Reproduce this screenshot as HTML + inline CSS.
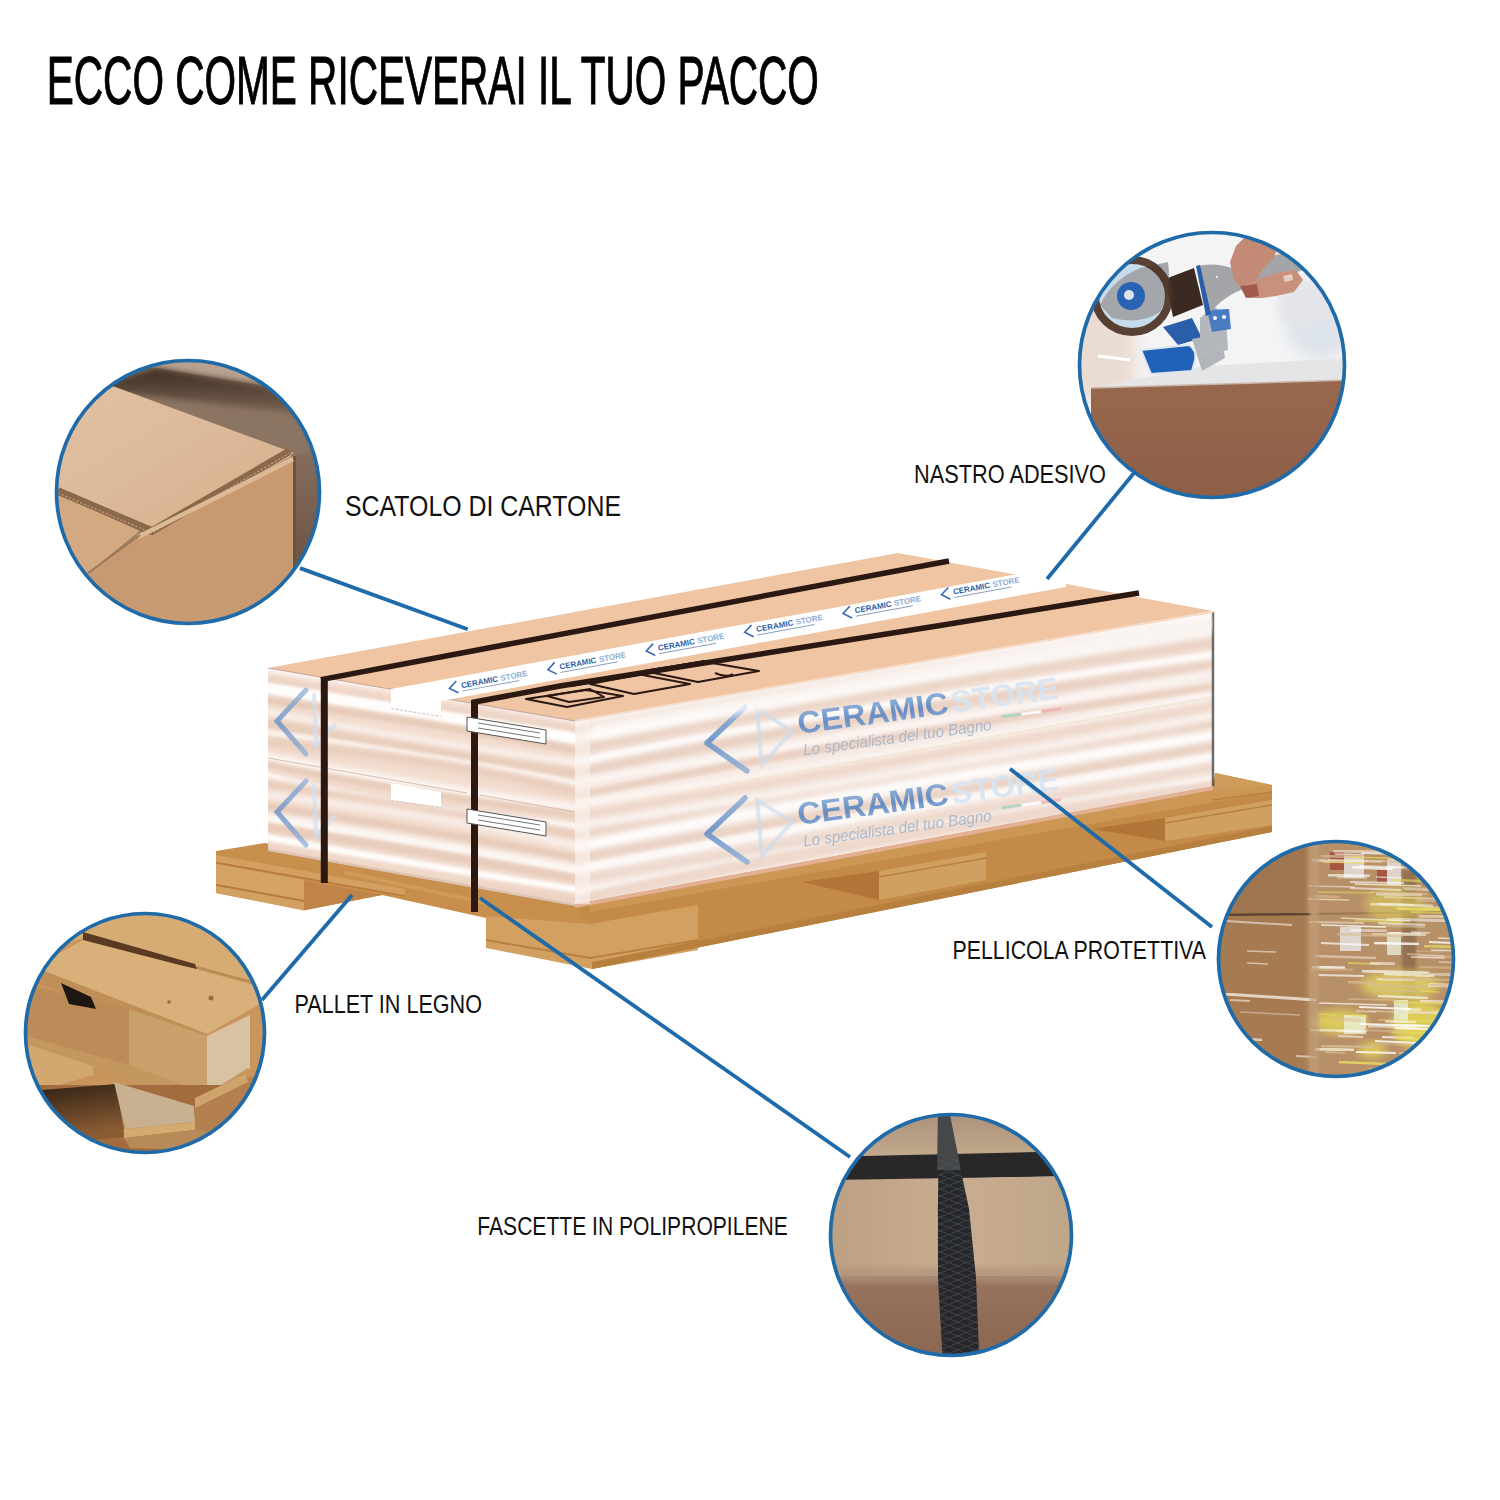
<!DOCTYPE html>
<html><head><meta charset="utf-8">
<style>
html,body{margin:0;padding:0;background:#fff;overflow:hidden;}
svg{display:block;}
text{font-family:"Liberation Sans",sans-serif;}
</style></head>
<body>
<svg width="1500" height="1500" viewBox="0 0 1500 1500">
<defs>
  <clipPath id="c1"><circle cx="188" cy="492" r="131"/></clipPath>
  <clipPath id="c2"><circle cx="1212" cy="365" r="132"/></clipPath>
  <clipPath id="c3"><circle cx="145" cy="1033" r="119"/></clipPath>
  <clipPath id="c4"><circle cx="1336" cy="959" r="117"/></clipPath>
  <clipPath id="c5"><circle cx="951" cy="1235" r="120"/></clipPath>
  <clipPath id="strapclip"><polygon points="939,1110 948,1110 969,1209 976,1278 979.5,1365 943,1365 938,1278 937.9,1209"/></clipPath>
  <clipPath id="fFront"><polygon points="575,721 1213,612 1213,786 575,904"/></clipPath>
  <clipPath id="fLeft"><polygon points="268,668 575,721 575,904 268,849"/></clipPath>
  <filter id="b05" x="-10%" y="-10%" width="120%" height="120%"><feGaussianBlur stdDeviation="0.6"/></filter>
  <filter id="b1" x="-10%" y="-50%" width="120%" height="200%"><feGaussianBlur stdDeviation="1.5"/></filter>
  <filter id="b2" x="-10%" y="-50%" width="120%" height="200%"><feGaussianBlur stdDeviation="3"/></filter>
  <filter id="b4" x="-20%" y="-20%" width="140%" height="140%"><feGaussianBlur stdDeviation="4"/></filter>
  <filter id="b8" x="-30%" y="-30%" width="160%" height="160%"><feGaussianBlur stdDeviation="8"/></filter>
  <linearGradient id="g2box" x1="0" y1="0" x2="0" y2="1"><stop offset="0" stop-color="#98684e"/><stop offset="1" stop-color="#8c5e46"/></linearGradient>
  <linearGradient id="g1flap" x1="0" y1="0" x2="1" y2="1"><stop offset="0" stop-color="#e2c2a4"/><stop offset="1" stop-color="#d6b08e"/></linearGradient>
  <linearGradient id="g1right" x1="0" y1="0" x2="0" y2="1"><stop offset="0" stop-color="#86705e"/><stop offset="0.6" stop-color="#6e5646"/><stop offset="1" stop-color="#4e3c30"/></linearGradient>
  <linearGradient id="g1shadow" x1="0" y1="0" x2="0" y2="1"><stop offset="0" stop-color="#3e2e24"/><stop offset="1" stop-color="#8c7462"/></linearGradient>
  <linearGradient id="g5top" x1="0" y1="0" x2="1" y2="0"><stop offset="0" stop-color="#bba084"/><stop offset="0.5" stop-color="#c8ad90"/><stop offset="1" stop-color="#c0a688"/></linearGradient>
  <linearGradient id="g5front" x1="0" y1="0" x2="0" y2="1"><stop offset="0" stop-color="#987460"/><stop offset="1" stop-color="#8a6650"/></linearGradient>
  <linearGradient id="g5back" x1="0" y1="0" x2="0" y2="1"><stop offset="0" stop-color="#a89078"/><stop offset="1" stop-color="#c4aa8e"/></linearGradient>
  <linearGradient id="g3dark" x1="0" y1="0" x2="0.3" y2="1"><stop offset="0" stop-color="#2a1c12"/><stop offset="1" stop-color="#8a5c34"/></linearGradient>
  <linearGradient id="gLogoT" x1="0" y1="0" x2="0" y2="1"><stop offset="0" stop-color="#8fb2dc"/><stop offset="0.55" stop-color="#4f80c2"/><stop offset="1" stop-color="#7fa4d4"/></linearGradient>
  <linearGradient id="gLogo" x1="0" y1="0" x2="0" y2="1"><stop offset="0" stop-color="#8fb0d8"/><stop offset="0.5" stop-color="#5e8cc6"/><stop offset="1" stop-color="#8fb0d8"/></linearGradient>
</defs>
<rect width="1500" height="1500" fill="#fff"/>

<text x="46.8" y="104.3" font-size="69" textLength="772" lengthAdjust="spacingAndGlyphs" fill="#000" stroke="#000" stroke-width="1.1">ECCO COME RICEVERAI IL TUO PACCO</text>
<text x="345" y="516" font-size="29" textLength="276" lengthAdjust="spacingAndGlyphs" fill="#111">SCATOLO DI CARTONE</text>
<text x="914" y="483" font-size="25.5" textLength="192" lengthAdjust="spacingAndGlyphs" fill="#111">NASTRO ADESIVO</text>
<text x="294.5" y="1013" font-size="25" textLength="187.5" lengthAdjust="spacingAndGlyphs" fill="#111">PALLET IN LEGNO</text>
<text x="952.5" y="959.3" font-size="25.8" textLength="253.5" lengthAdjust="spacingAndGlyphs" fill="#111">PELLICOLA PROTETTIVA</text>
<text x="477.3" y="1234.8" font-size="25.3" textLength="310.5" lengthAdjust="spacingAndGlyphs" fill="#111">FASCETTE IN POLIPROPILENE</text>
<g id="pallet">
<polygon points="216,851 265,843 575,904 590,905 590,926 486,918 382,895 304,910 216,893" fill="#c78e4c"/>
<polygon points="216,855 405,889 405,896 216,862" fill="#d3a062"/>
<path d="M216,862.5 L405,896" stroke="#b87a3a" stroke-width="1.6"/>
<polygon points="216,864 304,880 304,900 216,884" fill="#d5a464"/>
<path d="M216,885 L304,901" stroke="#b87a3a" stroke-width="1.8"/>
<polygon points="216,886 304,902 304,910.5 216,893" fill="#d2a060"/>
<polygon points="304,881 382,895 304,910.5" fill="#c08448"/>
<polygon points="344,870 486,901 486,905 344,874" fill="#cf9b5a"/>
<polygon points="575,904 1213,786 1215,773 1272,785 1272,832 592,969 590,926" fill="#c48a48"/>
<polygon points="590,905 1213,786 1272,785 1272,792 590,912" fill="#cc9655"/>
<polygon points="486,916 590,924 698,905 698,950 592,969 486,948" fill="#d2a060"/>
<path d="M486,940 L590,958 L698,940" stroke="#b98040" stroke-width="2" fill="none"/>
<polygon points="1215,773 1272,785 1215,790" fill="#cf9c5c"/>
<path d="M1213,800 L1272,792 M1213,826 L1272,818" stroke="#b8803f" stroke-width="1.5"/>
<polygon points="802,882 879,871 879,900" fill="#b27538"/>
<polygon points="879,871 986,852 986,880 879,900" fill="#d0a060"/>
<path d="M879,877 L986,858" stroke="#b88040" stroke-width="1.6"/>
<polygon points="1092,829 1165,818 1165,841" fill="#b27538"/>
<polygon points="1165,818 1272,800 1272,825 1165,841" fill="#d0a060"/>
<path d="M1165,823 L1272,805" stroke="#b88040" stroke-width="1.6"/>
<polygon points="592,962 1272,826 1272,832 592,969" fill="#b8803f"/>
</g>
<g id="box">
<polygon points="268,668 575,721 575,904 268,849" fill="#f2dccf"/>
<polygon points="575,721 1213,612 1213,786 575,904" fill="#f6e9e2"/>
<g clip-path="url(#fFront)">
<path d="M565,720.7 Q872.9,662.8 1223,611.7" stroke="#ffffff" stroke-width="8.9" fill="none" opacity="0.93" filter="url(#b2)"/>
<path d="M565,731.6 Q912.1,672.5 1223,622.0" stroke="#e8cdbd" stroke-width="6.3" fill="none" opacity="0.89" filter="url(#b2)"/>
<path d="M565,743.4 Q898.3,687.0 1223,633.3" stroke="#ffffff" stroke-width="10.6" fill="none" opacity="0.68" filter="url(#b2)"/>
<path d="M565,751.5 Q841.0,696.3 1223,641.0" stroke="#e8cdbd" stroke-width="10.7" fill="none" opacity="0.86" filter="url(#b2)"/>
<path d="M565,764.8 Q838.5,708.6 1223,653.7" stroke="#ffffff" stroke-width="7.8" fill="none" opacity="0.79" filter="url(#b1)"/>
<path d="M565,775.8 Q842.4,715.8 1223,664.1" stroke="#e6cbbb" stroke-width="9.4" fill="none" opacity="0.90" filter="url(#b2)"/>
<path d="M565,783.5 Q884.9,730.7 1223,671.5" stroke="#ffffff" stroke-width="6.3" fill="none" opacity="0.72" filter="url(#b2)"/>
<path d="M565,798.3 Q848.9,739.1 1223,685.5" stroke="#eacfc0" stroke-width="8.1" fill="none" opacity="0.90" filter="url(#b1)"/>
<path d="M565,806.1 Q909.3,754.0 1223,693.0" stroke="#ffffff" stroke-width="7.1" fill="none" opacity="0.65" filter="url(#b2)"/>
<path d="M565,818.2 Q903.3,760.3 1223,704.4" stroke="#eacfc0" stroke-width="7.8" fill="none" opacity="0.82" filter="url(#b2)"/>
<path d="M565,830.4 Q951.2,768.7 1223,716.0" stroke="#ffffff" stroke-width="7.2" fill="none" opacity="0.72" filter="url(#b2)"/>
<path d="M565,837.5 Q937.0,778.0 1223,722.8" stroke="#e8cdbd" stroke-width="10.4" fill="none" opacity="0.77" filter="url(#b2)"/>
<path d="M565,850.3 Q851.3,788.8 1223,734.9" stroke="#ffffff" stroke-width="11.7" fill="none" opacity="0.90" filter="url(#b2)"/>
<path d="M565,860.1 Q871.0,805.4 1223,744.3" stroke="#e6cbbb" stroke-width="8.3" fill="none" opacity="0.94" filter="url(#b2)"/>
<path d="M565,872.1 Q855.7,814.7 1223,755.7" stroke="#ffffff" stroke-width="9.0" fill="none" opacity="0.71" filter="url(#b1)"/>
<path d="M565,882.1 Q910.7,822.4 1223,765.2" stroke="#e6cbbb" stroke-width="7.2" fill="none" opacity="0.65" filter="url(#b2)"/>
<path d="M565,895.6 Q899.7,832.5 1223,778.1" stroke="#ffffff" stroke-width="5.8" fill="none" opacity="0.72" filter="url(#b2)"/>
<path d="M565,902.3 Q841.2,840.4 1223,784.4" stroke="#eacfc0" stroke-width="10.6" fill="none" opacity="0.70" filter="url(#b1)"/>
</g>
<g clip-path="url(#fLeft)">
<path d="M258,666.3 Q443.1,692.1 585,719.3" stroke="#ffffff" stroke-width="8.6" fill="none" opacity="0.95" filter="url(#b2)"/>
<path d="M258,678.2 Q399.2,705.6 585,731.3" stroke="#e8cbb9" stroke-width="5.8" fill="none" opacity="0.78" filter="url(#b2)"/>
<path d="M258,686.6 Q415.9,711.2 585,739.8" stroke="#ffffff" stroke-width="11.1" fill="none" opacity="0.94" filter="url(#b1)"/>
<path d="M258,698.9 Q456.8,727.5 585,752.2" stroke="#e4c6b2" stroke-width="6.5" fill="none" opacity="0.77" filter="url(#b1)"/>
<path d="M258,711.4 Q390.8,738.8 585,764.8" stroke="#ffffff" stroke-width="5.7" fill="none" opacity="0.95" filter="url(#b2)"/>
<path d="M258,720.9 Q424.5,751.5 585,774.5" stroke="#e4c6b2" stroke-width="10.4" fill="none" opacity="0.75" filter="url(#b2)"/>
<path d="M258,731.3 Q449.0,756.0 585,785.0" stroke="#ffffff" stroke-width="5.5" fill="none" opacity="0.71" filter="url(#b1)"/>
<path d="M258,741.1 Q479.1,764.2 585,794.9" stroke="#e6c8b5" stroke-width="7.6" fill="none" opacity="0.84" filter="url(#b2)"/>
<path d="M258,755.7 Q411.7,785.2 585,809.6" stroke="#ffffff" stroke-width="8.4" fill="none" opacity="0.82" filter="url(#b2)"/>
<path d="M258,762.1 Q379.7,789.0 585,816.1" stroke="#e4c6b2" stroke-width="7.2" fill="none" opacity="0.72" filter="url(#b1)"/>
<path d="M258,773.1 Q366.2,801.9 585,827.3" stroke="#ffffff" stroke-width="6.3" fill="none" opacity="0.87" filter="url(#b1)"/>
<path d="M258,783.5 Q453.2,811.3 585,837.7" stroke="#e8cbb9" stroke-width="11.2" fill="none" opacity="0.83" filter="url(#b2)"/>
<path d="M258,793.3 Q466.6,818.6 585,847.7" stroke="#ffffff" stroke-width="5.8" fill="none" opacity="0.80" filter="url(#b2)"/>
<path d="M258,805.0 Q444.9,833.2 585,859.5" stroke="#e6c8b5" stroke-width="7.7" fill="none" opacity="0.78" filter="url(#b1)"/>
<path d="M258,817.0 Q431.1,843.9 585,871.7" stroke="#ffffff" stroke-width="8.6" fill="none" opacity="0.93" filter="url(#b2)"/>
<path d="M258,825.7 Q462.3,857.5 585,880.4" stroke="#e8cbb9" stroke-width="8.9" fill="none" opacity="0.91" filter="url(#b1)"/>
<path d="M258,836.0 Q418.4,865.1 585,890.9" stroke="#ffffff" stroke-width="6.5" fill="none" opacity="0.92" filter="url(#b1)"/>
<path d="M258,846.4 Q368.8,875.9 585,901.3" stroke="#e8cbb9" stroke-width="7.9" fill="none" opacity="0.72" filter="url(#b2)"/>
</g>
<path d="M268,758 L467,793" stroke="#cfb0a0" stroke-width="1" opacity="0.8"/>
<path d="M480,795 L575,812" stroke="#cfb0a0" stroke-width="1" opacity="0.8"/>
<path d="M575,812 L1213,697" stroke="#f3e3cc" stroke-width="1.5" opacity="0.9"/>
<g opacity="0.85"><path d="M745,707 L707,743 L747,771" stroke="url(#gLogo)" stroke-width="5.5" fill="none" stroke-linecap="round" stroke-linejoin="round"/><path d="M757,709 L762,765 L792,731 Z" stroke="#c8dcf0" stroke-width="4" fill="none" opacity="0.7"/><g transform="translate(799,734) rotate(-7.8)"><text x="0" y="0" font-size="31" font-weight="bold" fill="url(#gLogoT)" textLength="152" lengthAdjust="spacingAndGlyphs">CERAMIC</text><text x="155" y="0" font-size="31" font-weight="bold" fill="#d6e4f3" textLength="108" lengthAdjust="spacingAndGlyphs">STORE</text><text x="2" y="22" font-size="16" font-style="italic" fill="#9fb3cc" textLength="190" lengthAdjust="spacingAndGlyphs">Lo specialista del tuo Bagno</text><rect x="203" y="9" width="20" height="3" fill="#a8d4c4"/><rect x="223" y="9" width="20" height="3" fill="#ffffff"/><rect x="243" y="9" width="20" height="3" fill="#f0b4b4"/></g></g>
<g opacity="0.85"><path d="M745,798 L707,834 L747,862" stroke="url(#gLogo)" stroke-width="5.5" fill="none" stroke-linecap="round" stroke-linejoin="round"/><path d="M757,800 L762,856 L792,822 Z" stroke="#c8dcf0" stroke-width="4" fill="none" opacity="0.7"/><g transform="translate(799,825) rotate(-7.8)"><text x="0" y="0" font-size="31" font-weight="bold" fill="url(#gLogoT)" textLength="152" lengthAdjust="spacingAndGlyphs">CERAMIC</text><text x="155" y="0" font-size="31" font-weight="bold" fill="#d6e4f3" textLength="108" lengthAdjust="spacingAndGlyphs">STORE</text><text x="2" y="22" font-size="16" font-style="italic" fill="#9fb3cc" textLength="190" lengthAdjust="spacingAndGlyphs">Lo specialista del tuo Bagno</text><rect x="203" y="9" width="20" height="3" fill="#a8d4c4"/><rect x="223" y="9" width="20" height="3" fill="#ffffff"/><rect x="243" y="9" width="20" height="3" fill="#f0b4b4"/></g></g>
<path d="M306,690 L277,721 L306,754" stroke="url(#gLogo)" stroke-width="5" fill="none" stroke-linecap="round" opacity="0.75"/>
<path d="M314,693 L316,745 L336,724" stroke="#cfe0f2" stroke-width="4" fill="none" opacity="0.7"/>
<path d="M306,781 L277,812 L306,845" stroke="url(#gLogo)" stroke-width="5" fill="none" stroke-linecap="round" opacity="0.75"/>
<path d="M314,784 L316,836 L336,815" stroke="#cfe0f2" stroke-width="4" fill="none" opacity="0.7"/>
<polygon points="575,904 1213,786 1213,790 575,908" fill="#e2b193"/>
<polygon points="268,849 575,904 575,906 268,851" fill="#dcc6bc"/>
<polygon points="575,720 590,718 590,904 575,904" fill="#fbf3ee" opacity="0.6"/>
<path d="M1213,612 L1213,786" stroke="#333" stroke-width="2.5" opacity="0.7"/>
<polygon points="268,668 898,553 1213,611 575,721" fill="#efc5a3"/>
<polygon points="590,724 1213,616 1213,630 590,740" fill="#ffffff" opacity="0.75" filter="url(#b2)" clip-path="url(#fFront)"/>
<path d="M575,721 L1213,612" stroke="#f6dcc8" stroke-width="2"/>
<path d="M268,668 L575,721" stroke="#b8968a" stroke-width="1" opacity="0.8"/>
<path d="M321,679.6 L949,561" stroke="#2b1810" stroke-width="5.5"/>
<path d="M472,702.5 L560,686 L940,625.5 L1139,593" stroke="#2b1810" stroke-width="5.5" fill="none" stroke-linejoin="round"/>
<polygon points="391,689 1023,573 1066,581 1066,587 441,701" fill="#ffffff"/>
<polygon points="391,689 441,697 441,716 391,708" fill="#ffffff"/>
<polygon points="391,783 441,792 441,807 391,800" fill="#ffffff"/>
<path d="M391,708.5 L441,716.5 M391,800.5 L441,807.5" stroke="#d6cac6" stroke-width="1.2" stroke-dasharray="3,1.5"/>
<g transform="translate(449.5,688.4) rotate(-10.5)"><path d="M8,-6 L0,0 L8,6" stroke="#3a6ab0" stroke-width="1.6" fill="none"/><text x="12" y="2" font-size="8" font-weight="bold" fill="#2e5fa8">CERAMIC</text><text x="52" y="2" font-size="8" font-weight="bold" fill="#8eaed6">STORE</text><path d="M12,5 L70,5" stroke="#8aa0c0" stroke-width="1"/></g>
<g transform="translate(547.9,669.7) rotate(-10.5)"><path d="M8,-6 L0,0 L8,6" stroke="#3a6ab0" stroke-width="1.6" fill="none"/><text x="12" y="2" font-size="8" font-weight="bold" fill="#2e5fa8">CERAMIC</text><text x="52" y="2" font-size="8" font-weight="bold" fill="#8eaed6">STORE</text><path d="M12,5 L70,5" stroke="#8aa0c0" stroke-width="1"/></g>
<g transform="translate(646.3,651.0) rotate(-10.5)"><path d="M8,-6 L0,0 L8,6" stroke="#3a6ab0" stroke-width="1.6" fill="none"/><text x="12" y="2" font-size="8" font-weight="bold" fill="#2e5fa8">CERAMIC</text><text x="52" y="2" font-size="8" font-weight="bold" fill="#8eaed6">STORE</text><path d="M12,5 L70,5" stroke="#8aa0c0" stroke-width="1"/></g>
<g transform="translate(744.7,632.3) rotate(-10.5)"><path d="M8,-6 L0,0 L8,6" stroke="#3a6ab0" stroke-width="1.6" fill="none"/><text x="12" y="2" font-size="8" font-weight="bold" fill="#2e5fa8">CERAMIC</text><text x="52" y="2" font-size="8" font-weight="bold" fill="#8eaed6">STORE</text><path d="M12,5 L70,5" stroke="#8aa0c0" stroke-width="1"/></g>
<g transform="translate(843.1,613.5) rotate(-10.5)"><path d="M8,-6 L0,0 L8,6" stroke="#3a6ab0" stroke-width="1.6" fill="none"/><text x="12" y="2" font-size="8" font-weight="bold" fill="#2e5fa8">CERAMIC</text><text x="52" y="2" font-size="8" font-weight="bold" fill="#8eaed6">STORE</text><path d="M12,5 L70,5" stroke="#8aa0c0" stroke-width="1"/></g>
<g transform="translate(941.5,594.8) rotate(-10.5)"><path d="M8,-6 L0,0 L8,6" stroke="#3a6ab0" stroke-width="1.6" fill="none"/><text x="12" y="2" font-size="8" font-weight="bold" fill="#2e5fa8">CERAMIC</text><text x="52" y="2" font-size="8" font-weight="bold" fill="#8eaed6">STORE</text><path d="M12,5 L70,5" stroke="#8aa0c0" stroke-width="1"/></g>
<g stroke="#2b1810" stroke-width="2" fill="none" stroke-linejoin="round">
<path d="M571,685 L705,662" stroke-width="4"/>
<polygon points="526,699 586,690 623,696 567,707"/>
<polygon points="547,696 590,689 604,697 569,702"/>
<polygon points="590,684 640,674.5 690,684 634,694"/>
<polygon points="644,671 703,661.5 759,671 698,682"/>
<path d="M715,673 Q726,678 733,674"/>
</g>
<path d="M324.3,677 L324.3,883" stroke="#2b1810" stroke-width="7"/>
<path d="M474.5,700 L474.5,912" stroke="#2b1810" stroke-width="7"/>
<polygon points="467,717 546,730 546,744 467,731" fill="#ffffff" stroke="#555" stroke-width="1"/>
<path d="M478,723 L540,733 M478,728 L540,738" stroke="#777" stroke-width="1"/>
<polygon points="467,809 546,822 546,836 467,823" fill="#ffffff" stroke="#555" stroke-width="1"/>
<path d="M478,815 L540,825 M478,820 L540,830" stroke="#777" stroke-width="1"/>
</g>
<g stroke="#1f6aa8" stroke-width="3.8" fill="none">
<line x1="300" y1="568.1" x2="467.7" y2="629.2"/>
<line x1="1134" y1="473" x2="1047" y2="579"/>
<line x1="262" y1="1000" x2="352" y2="895"/>
<line x1="1212" y1="927" x2="1010" y2="768.8"/>
<line x1="850" y1="1157" x2="480" y2="898"/>
</g>
<g clip-path="url(#c1)">
<rect x="50" y="355" width="280" height="280" fill="#8c7462"/>
<polygon points="100,340 320,340 320,396 260,385 156,368 100,362" fill="#b9a290"/>
<polygon points="100,384 156,368 260,385 320,400 320,430 289,412 114,392" fill="url(#g1shadow)" filter="url(#b2)"/>
<polygon points="114,386.5 287,450.5 293.5,453 290,457 152,532 58,492 45,480 45,380" fill="url(#g1flap)"/>
<polygon points="45,498 58,494 140,531 88,573 45,600" fill="#d3a982"/>
<polygon points="140,533 293,456 330,450 330,640 60,640 88,573" fill="#c79a72"/>
<polygon points="293,456 340,440 340,640 293,640" fill="url(#g1right)"/>
<polygon points="293,456 296,456 296,640 293,640" fill="#6e5440"/>
<path d="M58,491 L152,531 L290,451" stroke="#8a6848" stroke-width="7.5" fill="none"/>
<path d="M58,493 L152,533 L290,453" stroke="#c4a080" stroke-width="1.2" fill="none" stroke-dasharray="2,2"/>
<path d="M138,537 L293,459" stroke="#dcba96" stroke-width="4.5" fill="none"/>
<path d="M88,573 L140,535" stroke="#9a7858" stroke-width="2" fill="none"/>
</g>
<circle cx="188" cy="492" r="131.5" fill="none" stroke="#1f6aa8" stroke-width="3.7"/>
<g clip-path="url(#c2)">
<rect x="1075" y="228" width="275" height="275" fill="#f4f4f5"/>
<rect x="1060" y="300" width="75" height="100" fill="#eadcd2" filter="url(#b8)"/>
<ellipse cx="1320" cy="320" rx="35" ry="40" fill="#dde3ea" filter="url(#b8)"/>
<ellipse cx="1300" cy="250" rx="30" ry="14" fill="#e8d4cc" filter="url(#b4)"/>
<polygon points="1091,388 1205,366 1350,358 1350,382" fill="#e5e5e8"/>
<polygon points="1091,388 1350,380 1350,510 1091,510" fill="url(#g2box)"/>
<path d="M1091,388 L1350,380" stroke="#c8b4a6" stroke-width="1.5"/>
<path d="M1098,356 L1130,360" stroke="#ffffff" stroke-width="3"/>
<polygon points="1165,279 1194,268 1203,305 1173,317" fill="#3a2a22"/>
<ellipse cx="1132" cy="296" rx="33" ry="32" fill="#c6dcea"/>
<path d="M1100,305 Q1112,280 1140,268 L1168,262 Q1172,290 1160,312 Q1140,325 1112,318 Z" fill="#a3a7ac"/>
<circle cx="1131" cy="296" r="14" fill="#2a62b6"/>
<circle cx="1129" cy="295" r="5" fill="#dfe4ea"/>
<ellipse cx="1132" cy="296" rx="37" ry="36" fill="none" stroke="#4a3224" stroke-width="8" opacity="0.92"/>
<polygon points="1163,327 1192,318 1202,338 1178,345" fill="#2a5eab"/>
<polygon points="1192,339 1221,334 1225,358 1202,371" fill="#b2b6ba"/>
<path d="M1141,350 L1189,345 Q1197,350 1195,360 L1192,371 L1151,374 Z" fill="#2062b8" stroke="#dfe6ee" stroke-width="2"/>
<polygon points="1200,318 1214,306 1226,318 1228,350 1200,356" fill="#b4b8bc"/>
<polygon points="1207,310 1229,309 1231,329 1212,332" fill="#4a7cc4"/>
<circle cx="1215" cy="318" r="2" fill="#fff"/><circle cx="1224" cy="317" r="2" fill="#fff"/>
<ellipse cx="1305" cy="305" rx="28" ry="22" fill="#e4e5ea" filter="url(#b4)"/>
<path d="M1197,266 Q1215,262 1232,268 L1262,258 L1292,252 L1303,270 L1270,281 Q1250,286 1236,292 Q1220,300 1208,315 Z" fill="#a3a5a9"/>
<polygon points="1196,266 1200,265 1211,314 1206,316" fill="#2a5eab"/>
<circle cx="1217" cy="277" r="1" fill="#fff"/>
<polygon points="1230,262 1236,246 1244,238 1262,236 1278,244 1274,258 1262,270 1254,284 1242,288 1234,280" fill="#c38a76"/>
<polygon points="1240,286 1250,282 1262,278 1280,272 1296,270 1303,280 1294,292 1276,296 1262,298 1248,298" fill="#c8917c"/>
<polygon points="1240,286 1257,284 1259,296 1246,298" fill="#a25a50"/>
<polygon points="1283,276 1292,274 1293,280 1285,282" fill="#e6cfc6"/>
</g>
<circle cx="1212" cy="365" r="132.5" fill="none" stroke="#1f6aa8" stroke-width="3.7"/>
<g clip-path="url(#c3)">
<rect x="20" y="905" width="255" height="255" fill="#c8965c"/>
<polygon points="20,905 275,905 275,985 195,968 83,938 20,960" fill="#d6ab74"/>
<polygon points="83,932 195,964 197,969 83,944" fill="#5a3a20"/>
<path d="M197,967 L262,985" stroke="#b88a58" stroke-width="2"/>
<polygon points="20,975 83,940 195,969 258,986 258,1005 207,1034 44,971 20,980" fill="#d9b07a"/>
<polygon points="20,972 44,971 207,1034 207,1042 27,980 20,985" fill="#c08e58"/>
<polygon points="20,983 129,1009 129,1065 20,1036" fill="#bb8c58"/>
<polygon points="61,983 91,997 96,1009 69,1004" fill="#1e1610"/>
<polygon points="129,1009 207,1036 207,1094 129,1065" fill="#c9a06a"/>
<polygon points="207,1036 250,1015 250,1068 207,1094" fill="#d9c2a2"/>
<polygon points="20,1034 129,1065 207,1094 248,1068 248,1077 207,1104 20,1044" fill="#c49660"/>
<polygon points="20,1042 93,1066 93,1075 42,1090 20,1090" fill="#d2a870"/>
<polygon points="20,1085 275,1085 275,1160 20,1160" fill="#a26c3e"/>
<polygon points="20,1090 42,1090 117,1084 124,1137 90,1140 40,1115" fill="url(#g3dark)"/>
<polygon points="114,1082 194,1106 195,1122 125,1129" fill="#c9b090"/>
<polygon points="124,1129 195,1122 195,1130 124,1138" fill="#d4aa70"/>
<polygon points="195,1098 275,1068 275,1160 195,1160" fill="#b58050"/>
<polygon points="195,1098 245,1074 248,1082 195,1108" fill="#cfa46c"/>
<polygon points="124,1138 195,1130 250,1138 200,1150 130,1148" fill="#b88a58"/>
<circle cx="211" cy="998" r="2.5" fill="#9a6a40"/><circle cx="169" cy="1002" r="1.8" fill="#9a6a40"/>
</g>
<circle cx="145" cy="1033" r="119.5" fill="none" stroke="#1f6aa8" stroke-width="3.7"/>
<g clip-path="url(#c4)">
<rect x="1210" y="835" width="255" height="255" fill="#a67b52"/>
<rect x="1210" y="835" width="100" height="80" fill="#a07650"/>
<rect x="1312" y="835" width="150" height="255" fill="#b89068"/>
<rect x="1306" y="835" width="12" height="255" fill="#b08860" filter="url(#b1)"/>
<path d="M1210,915 L1312,914" stroke="#5e4430" stroke-width="2.5" filter="url(#b05)"/>
<path d="M1312,914 L1460,912" stroke="#8a6848" stroke-width="2" opacity="0.6"/>
<rect x="1402" y="870" width="14" height="125" fill="#8a6a4c" opacity="0.8" filter="url(#b1)"/>
<ellipse cx="1395" cy="905" rx="30" ry="18" fill="#e0d460" opacity="0.55" filter="url(#b4)"/>
<ellipse cx="1400" cy="985" rx="40" ry="14" fill="#e4d860" opacity="0.75" filter="url(#b4)"/>
<ellipse cx="1420" cy="1025" rx="28" ry="25" fill="#e4d858" opacity="0.85" filter="url(#b4)"/>
<ellipse cx="1340" cy="1022" rx="28" ry="12" fill="#e4d858" opacity="0.8" filter="url(#b4)"/>
<ellipse cx="1372" cy="1050" rx="14" ry="8" fill="#e4d858" opacity="0.8" filter="url(#b4)"/>
<rect x="1330" y="852" width="14" height="18" fill="#a04a3a" opacity="0.8" filter="url(#b05)"/>
<rect x="1377" y="870" width="10" height="12" fill="#a04a3a" opacity="0.8" filter="url(#b05)"/>
<rect x="1344" y="856" width="20" height="22" fill="#e8e4e4" opacity="0.8" filter="url(#b05)"/>
<rect x="1387" y="859" width="14" height="26" fill="#e8e4e4" opacity="0.8" filter="url(#b05)"/>
<rect x="1340" y="927" width="21" height="24" fill="#ece8e6" opacity="0.8" filter="url(#b05)"/>
<rect x="1387" y="932" width="14" height="23" fill="#e8ecd8" opacity="0.8" filter="url(#b05)"/>
<rect x="1344" y="1015" width="22" height="19" fill="#ecefd8" opacity="0.8" filter="url(#b05)"/>
<rect x="1394" y="1000" width="14" height="22" fill="#ecefd8" opacity="0.8" filter="url(#b05)"/>
<path d="M1378,904 L1414,905" stroke="#ffffff" stroke-width="2.1" opacity="0.68" filter="url(#b05)"/>
<path d="M1428,986 L1468,987" stroke="#ffffff" stroke-width="1.7" opacity="0.85" filter="url(#b05)"/>
<path d="M1418,956 L1459,957" stroke="#d8bc98" stroke-width="2.9" opacity="0.54" filter="url(#b05)"/>
<path d="M1430,884 L1466,885" stroke="#ffffff" stroke-width="2.5" opacity="0.48" filter="url(#b05)"/>
<path d="M1385,1021 L1416,1022" stroke="#ffffff" stroke-width="2.8" opacity="0.56" filter="url(#b05)"/>
<path d="M1429,984 L1466,985" stroke="#f4ecd0" stroke-width="2.0" opacity="0.77" filter="url(#b05)"/>
<path d="M1431,950 L1495,952" stroke="#ffffff" stroke-width="1.3" opacity="0.65" filter="url(#b05)"/>
<path d="M1396,908 L1454,910" stroke="#e6dc64" stroke-width="2.0" opacity="0.78" filter="url(#b05)"/>
<path d="M1377,979 L1415,980" stroke="#efe2d2" stroke-width="3.0" opacity="0.72" filter="url(#b05)"/>
<path d="M1421,1059 L1490,1061" stroke="#d8bc98" stroke-width="2.6" opacity="0.73" filter="url(#b05)"/>
<path d="M1378,923 L1425,925" stroke="#ffffff" stroke-width="2.6" opacity="0.53" filter="url(#b05)"/>
<path d="M1382,1037 L1413,1038" stroke="#ffffff" stroke-width="2.2" opacity="0.71" filter="url(#b05)"/>
<path d="M1351,959 L1370,959" stroke="#efe2d2" stroke-width="1.2" opacity="0.62" filter="url(#b05)"/>
<path d="M1321,943 L1369,945" stroke="#ffffff" stroke-width="2.0" opacity="0.68" filter="url(#b05)"/>
<path d="M1429,974 L1460,975" stroke="#efe2d2" stroke-width="3.2" opacity="0.57" filter="url(#b05)"/>
<path d="M1386,867 L1403,868" stroke="#efe2d2" stroke-width="3.1" opacity="0.57" filter="url(#b05)"/>
<path d="M1398,909 L1467,911" stroke="#e6dc64" stroke-width="1.8" opacity="0.83" filter="url(#b05)"/>
<path d="M1356,1052 L1396,1053" stroke="#ffffff" stroke-width="2.0" opacity="0.80" filter="url(#b05)"/>
<path d="M1319,1003 L1387,1005" stroke="#ffffff" stroke-width="1.7" opacity="0.70" filter="url(#b05)"/>
<path d="M1431,1011 L1470,1012" stroke="#e6dc64" stroke-width="2.2" opacity="0.67" filter="url(#b05)"/>
<path d="M1361,853 L1408,854" stroke="#ffffff" stroke-width="2.0" opacity="0.69" filter="url(#b05)"/>
<path d="M1391,880 L1424,881" stroke="#e6dc64" stroke-width="2.6" opacity="0.59" filter="url(#b05)"/>
<path d="M1405,1009 L1421,1010" stroke="#ffffff" stroke-width="3.1" opacity="0.46" filter="url(#b05)"/>
<path d="M1390,933 L1421,934" stroke="#ffffff" stroke-width="1.8" opacity="0.60" filter="url(#b05)"/>
<path d="M1355,920 L1403,922" stroke="#e6dc64" stroke-width="2.8" opacity="0.49" filter="url(#b05)"/>
<path d="M1436,1033 L1489,1035" stroke="#efe2d2" stroke-width="1.8" opacity="0.54" filter="url(#b05)"/>
<path d="M1337,1031 L1363,1032" stroke="#f4ecd0" stroke-width="2.5" opacity="0.49" filter="url(#b05)"/>
<path d="M1433,985 L1485,987" stroke="#efe2d2" stroke-width="2.1" opacity="0.79" filter="url(#b05)"/>
<path d="M1350,888 L1401,890" stroke="#ffffff" stroke-width="2.1" opacity="0.54" filter="url(#b05)"/>
<path d="M1376,877 L1402,878" stroke="#ffffff" stroke-width="1.6" opacity="0.56" filter="url(#b05)"/>
<path d="M1392,1032 L1451,1033" stroke="#e6dc64" stroke-width="2.4" opacity="0.62" filter="url(#b05)"/>
<path d="M1420,967 L1460,968" stroke="#d8bc98" stroke-width="2.0" opacity="0.62" filter="url(#b05)"/>
<path d="M1429,942 L1453,943" stroke="#ffffff" stroke-width="2.2" opacity="0.78" filter="url(#b05)"/>
<path d="M1374,990 L1420,991" stroke="#d8bc98" stroke-width="1.6" opacity="0.75" filter="url(#b05)"/>
<path d="M1395,1038 L1438,1040" stroke="#e6dc64" stroke-width="2.3" opacity="0.81" filter="url(#b05)"/>
<path d="M1421,1044 L1489,1046" stroke="#ffffff" stroke-width="2.8" opacity="0.47" filter="url(#b05)"/>
<path d="M1399,1053 L1464,1055" stroke="#f4ecd0" stroke-width="2.4" opacity="0.46" filter="url(#b05)"/>
<path d="M1328,1018 L1360,1019" stroke="#d8bc98" stroke-width="1.2" opacity="0.66" filter="url(#b05)"/>
<path d="M1428,862 L1450,863" stroke="#efe2d2" stroke-width="1.7" opacity="0.79" filter="url(#b05)"/>
<path d="M1411,957 L1445,958" stroke="#efe2d2" stroke-width="1.4" opacity="0.81" filter="url(#b05)"/>
<path d="M1337,877 L1367,878" stroke="#efe2d2" stroke-width="2.8" opacity="0.45" filter="url(#b05)"/>
<path d="M1421,991 L1439,992" stroke="#e6dc64" stroke-width="1.7" opacity="0.70" filter="url(#b05)"/>
<path d="M1312,967 L1345,968" stroke="#ffffff" stroke-width="2.9" opacity="0.76" filter="url(#b05)"/>
<path d="M1312,860 L1353,862" stroke="#ffffff" stroke-width="2.9" opacity="0.48" filter="url(#b05)"/>
<path d="M1348,963 L1380,964" stroke="#e6dc64" stroke-width="2.0" opacity="0.61" filter="url(#b05)"/>
<path d="M1341,918 L1410,921" stroke="#f4ecd0" stroke-width="1.4" opacity="0.67" filter="url(#b05)"/>
<path d="M1356,1011 L1376,1012" stroke="#efe2d2" stroke-width="1.3" opacity="0.63" filter="url(#b05)"/>
<path d="M1378,996 L1428,998" stroke="#ffffff" stroke-width="2.4" opacity="0.62" filter="url(#b05)"/>
<path d="M1372,934 L1426,935" stroke="#f4ecd0" stroke-width="3.1" opacity="0.62" filter="url(#b05)"/>
<path d="M1335,854 L1364,855" stroke="#ffffff" stroke-width="1.3" opacity="0.62" filter="url(#b05)"/>
<path d="M1424,946 L1490,948" stroke="#e6dc64" stroke-width="3.1" opacity="0.67" filter="url(#b05)"/>
<path d="M1321,1046 L1374,1047" stroke="#d8bc98" stroke-width="2.5" opacity="0.80" filter="url(#b05)"/>
<path d="M1395,1028 L1450,1030" stroke="#ffffff" stroke-width="2.3" opacity="0.77" filter="url(#b05)"/>
<path d="M1369,1011 L1397,1012" stroke="#f4ecd0" stroke-width="1.3" opacity="0.49" filter="url(#b05)"/>
<path d="M1424,872 L1449,873" stroke="#ffffff" stroke-width="1.9" opacity="0.79" filter="url(#b05)"/>
<path d="M1321,856 L1362,857" stroke="#d8bc98" stroke-width="3.1" opacity="0.68" filter="url(#b05)"/>
<path d="M1310,1030 L1367,1031" stroke="#ffffff" stroke-width="2.3" opacity="0.55" filter="url(#b05)"/>
<path d="M1318,975 L1364,976" stroke="#ffffff" stroke-width="1.8" opacity="0.68" filter="url(#b05)"/>
<path d="M1338,1036 L1363,1037" stroke="#efe2d2" stroke-width="2.1" opacity="0.73" filter="url(#b05)"/>
<path d="M1339,1062 L1387,1064" stroke="#e6dc64" stroke-width="2.3" opacity="0.84" filter="url(#b05)"/>
<path d="M1337,934 L1403,936" stroke="#d8bc98" stroke-width="3.1" opacity="0.62" filter="url(#b05)"/>
<path d="M1383,978 L1449,980" stroke="#d8bc98" stroke-width="2.2" opacity="0.71" filter="url(#b05)"/>
<path d="M1325,1052 L1345,1053" stroke="#d8bc98" stroke-width="2.2" opacity="0.73" filter="url(#b05)"/>
<path d="M1384,1064 L1446,1066" stroke="#efe2d2" stroke-width="1.7" opacity="0.53" filter="url(#b05)"/>
<path d="M1348,982 L1375,983" stroke="#d8bc98" stroke-width="2.3" opacity="0.76" filter="url(#b05)"/>
<path d="M1420,1001 L1468,1002" stroke="#ffffff" stroke-width="2.4" opacity="0.56" filter="url(#b05)"/>
<path d="M1308,899 L1349,900" stroke="#f4ecd0" stroke-width="1.6" opacity="0.68" filter="url(#b05)"/>
<path d="M1370,904 L1433,906" stroke="#f4ecd0" stroke-width="3.2" opacity="0.64" filter="url(#b05)"/>
<path d="M1368,985 L1429,987" stroke="#d8bc98" stroke-width="2.3" opacity="0.64" filter="url(#b05)"/>
<path d="M1421,1012 L1458,1013" stroke="#d8bc98" stroke-width="3.0" opacity="0.47" filter="url(#b05)"/>
<path d="M1425,1055 L1476,1056" stroke="#d8bc98" stroke-width="1.3" opacity="0.54" filter="url(#b05)"/>
<path d="M1425,907 L1483,909" stroke="#efe2d2" stroke-width="1.6" opacity="0.73" filter="url(#b05)"/>
<path d="M1426,1043 L1455,1044" stroke="#ffffff" stroke-width="1.8" opacity="0.62" filter="url(#b05)"/>
<path d="M1317,1014 L1337,1015" stroke="#e6dc64" stroke-width="1.3" opacity="0.63" filter="url(#b05)"/>
<path d="M1350,1015 L1367,1016" stroke="#e6dc64" stroke-width="2.1" opacity="0.64" filter="url(#b05)"/>
<path d="M1384,897 L1452,899" stroke="#f4ecd0" stroke-width="1.5" opacity="0.58" filter="url(#b05)"/>
<path d="M1315,1049 L1354,1050" stroke="#f4ecd0" stroke-width="3.0" opacity="0.81" filter="url(#b05)"/>
<path d="M1432,872 L1468,873" stroke="#e6dc64" stroke-width="2.7" opacity="0.57" filter="url(#b05)"/>
<path d="M1393,1002 L1453,1004" stroke="#e6dc64" stroke-width="1.4" opacity="0.83" filter="url(#b05)"/>
<path d="M1381,926 L1425,927" stroke="#d8bc98" stroke-width="2.2" opacity="0.59" filter="url(#b05)"/>
<path d="M1397,1012 L1443,1013" stroke="#efe2d2" stroke-width="2.5" opacity="0.74" filter="url(#b05)"/>
<path d="M1355,884 L1421,886" stroke="#f4ecd0" stroke-width="1.4" opacity="0.82" filter="url(#b05)"/>
<path d="M1350,882 L1404,883" stroke="#ffffff" stroke-width="2.0" opacity="0.57" filter="url(#b05)"/>
<path d="M1370,892 L1428,894" stroke="#d8bc98" stroke-width="1.3" opacity="0.74" filter="url(#b05)"/>
<path d="M1378,1020 L1434,1021" stroke="#e6dc64" stroke-width="1.4" opacity="0.56" filter="url(#b05)"/>
<path d="M1323,862 L1365,863" stroke="#e6dc64" stroke-width="1.7" opacity="0.76" filter="url(#b05)"/>
<path d="M1350,930 L1387,931" stroke="#ffffff" stroke-width="2.8" opacity="0.48" filter="url(#b05)"/>
<path d="M1439,962 L1463,963" stroke="#ffffff" stroke-width="1.4" opacity="0.50" filter="url(#b05)"/>
<path d="M1403,1025 L1428,1026" stroke="#efe2d2" stroke-width="2.3" opacity="0.72" filter="url(#b05)"/>
<path d="M1438,938 L1460,939" stroke="#ffffff" stroke-width="1.5" opacity="0.61" filter="url(#b05)"/>
<path d="M1376,894 L1422,895" stroke="#efe2d2" stroke-width="2.9" opacity="0.60" filter="url(#b05)"/>
<path d="M1419,916 L1458,917" stroke="#f4ecd0" stroke-width="3.1" opacity="0.60" filter="url(#b05)"/>
<path d="M1384,974 L1434,976" stroke="#ffffff" stroke-width="2.6" opacity="0.57" filter="url(#b05)"/>
<path d="M1370,1044 L1418,1045" stroke="#d8bc98" stroke-width="2.5" opacity="0.49" filter="url(#b05)"/>
<path d="M1337,1020 L1361,1021" stroke="#d8bc98" stroke-width="2.1" opacity="0.53" filter="url(#b05)"/>
<path d="M1310,969 L1353,970" stroke="#d8bc98" stroke-width="3.1" opacity="0.49" filter="url(#b05)"/>
<path d="M1394,914 L1417,914" stroke="#f4ecd0" stroke-width="2.8" opacity="0.70" filter="url(#b05)"/>
<path d="M1354,861 L1381,862" stroke="#ffffff" stroke-width="2.2" opacity="0.46" filter="url(#b05)"/>
<path d="M1349,926 L1383,927" stroke="#d8bc98" stroke-width="1.5" opacity="0.79" filter="url(#b05)"/>
<path d="M1430,985 L1485,987" stroke="#d8bc98" stroke-width="3.2" opacity="0.85" filter="url(#b05)"/>
<path d="M1314,896 L1340,897" stroke="#d8bc98" stroke-width="2.7" opacity="0.64" filter="url(#b05)"/>
<path d="M1311,875 L1330,875" stroke="#efe2d2" stroke-width="2.6" opacity="0.61" filter="url(#b05)"/>
<path d="M1314,956 L1376,958" stroke="#efe2d2" stroke-width="2.5" opacity="0.57" filter="url(#b05)"/>
<path d="M1407,954 L1444,956" stroke="#efe2d2" stroke-width="2.1" opacity="0.46" filter="url(#b05)"/>
<path d="M1420,908 L1459,909" stroke="#e6dc64" stroke-width="2.4" opacity="0.54" filter="url(#b05)"/>
<path d="M1333,851 L1391,852" stroke="#efe2d2" stroke-width="2.9" opacity="0.66" filter="url(#b05)"/>
<path d="M1308,886 L1355,887" stroke="#ffffff" stroke-width="1.5" opacity="0.46" filter="url(#b05)"/>
<path d="M1328,875 L1370,876" stroke="#ffffff" stroke-width="2.9" opacity="0.61" filter="url(#b05)"/>
<path d="M1309,922 L1364,923" stroke="#efe2d2" stroke-width="2.0" opacity="0.61" filter="url(#b05)"/>
<path d="M1435,856 L1462,857" stroke="#ffffff" stroke-width="2.0" opacity="0.53" filter="url(#b05)"/>
<path d="M1321,925 L1386,927" stroke="#ffffff" stroke-width="1.3" opacity="0.74" filter="url(#b05)"/>
<path d="M1411,912 L1452,913" stroke="#e6dc64" stroke-width="2.2" opacity="0.67" filter="url(#b05)"/>
<path d="M1350,857 L1420,859" stroke="#e6dc64" stroke-width="1.4" opacity="0.72" filter="url(#b05)"/>
<path d="M1385,1068 L1400,1069" stroke="#ffffff" stroke-width="2.6" opacity="0.46" filter="url(#b05)"/>
<path d="M1370,963 L1395,964" stroke="#ffffff" stroke-width="3.0" opacity="0.53" filter="url(#b05)"/>
<path d="M1369,1069 L1429,1071" stroke="#e6dc64" stroke-width="3.1" opacity="0.46" filter="url(#b05)"/>
<path d="M1387,919 L1454,921" stroke="#ffffff" stroke-width="3.1" opacity="0.52" filter="url(#b05)"/>
<path d="M1374,943 L1419,944" stroke="#ffffff" stroke-width="2.6" opacity="0.82" filter="url(#b05)"/>
<path d="M1405,889 L1460,891" stroke="#ffffff" stroke-width="1.9" opacity="0.52" filter="url(#b05)"/>
<path d="M1364,1030 L1404,1032" stroke="#d8bc98" stroke-width="2.2" opacity="0.56" filter="url(#b05)"/>
<path d="M1402,888 L1451,890" stroke="#d8bc98" stroke-width="2.6" opacity="0.83" filter="url(#b05)"/>
<path d="M1328,860 L1385,861" stroke="#f4ecd0" stroke-width="1.4" opacity="0.73" filter="url(#b05)"/>
<path d="M1348,999 L1396,1000" stroke="#d8bc98" stroke-width="1.3" opacity="0.69" filter="url(#b05)"/>
<path d="M1368,861 L1431,863" stroke="#d8bc98" stroke-width="1.9" opacity="0.60" filter="url(#b05)"/>
<path d="M1359,866 L1426,868" stroke="#ffffff" stroke-width="1.9" opacity="0.57" filter="url(#b05)"/>
<path d="M1416,951 L1443,952" stroke="#d8bc98" stroke-width="1.3" opacity="0.51" filter="url(#b05)"/>
<path d="M1384,995 L1400,995" stroke="#efe2d2" stroke-width="1.8" opacity="0.53" filter="url(#b05)"/>
<path d="M1375,1041 L1417,1043" stroke="#ffffff" stroke-width="1.8" opacity="0.80" filter="url(#b05)"/>
<path d="M1368,1026 L1417,1027" stroke="#ffffff" stroke-width="2.9" opacity="0.50" filter="url(#b05)"/>
<path d="M1435,855 L1461,856" stroke="#e6dc64" stroke-width="1.4" opacity="0.64" filter="url(#b05)"/>
<path d="M1417,900 L1466,902" stroke="#d8bc98" stroke-width="2.2" opacity="0.72" filter="url(#b05)"/>
<path d="M1359,1007 L1411,1009" stroke="#ffffff" stroke-width="1.8" opacity="0.83" filter="url(#b05)"/>
<path d="M1356,950 L1378,950" stroke="#ffffff" stroke-width="2.1" opacity="0.74" filter="url(#b05)"/>
<path d="M1352,867 L1393,869" stroke="#ffffff" stroke-width="3.0" opacity="0.72" filter="url(#b05)"/>
<path d="M1411,932 L1430,933" stroke="#ffffff" stroke-width="1.6" opacity="0.59" filter="url(#b05)"/>
<path d="M1350,1074 L1389,1075" stroke="#ffffff" stroke-width="1.7" opacity="0.58" filter="url(#b05)"/>
<path d="M1333,1019 L1360,1019" stroke="#d8bc98" stroke-width="2.4" opacity="0.82" filter="url(#b05)"/>
<path d="M1362,971 L1429,973" stroke="#ffffff" stroke-width="3.1" opacity="0.64" filter="url(#b05)"/>
<path d="M1360,1024 L1430,1026" stroke="#ffffff" stroke-width="1.8" opacity="0.82" filter="url(#b05)"/>
<path d="M1318,892 L1373,893" stroke="#e6dc64" stroke-width="2.2" opacity="0.47" filter="url(#b05)"/>
<path d="M1224,994 L1316,1000" stroke="#f4ece4" stroke-width="3" opacity="0.8" filter="url(#b05)"/>
<path d="M1226,921 L1292,925" stroke="#f4ece4" stroke-width="2" opacity="0.6" filter="url(#b05)"/>
<path d="M1247,951 L1276,952" stroke="#f4ece4" stroke-width="1.5" opacity="0.6" filter="url(#b05)"/>
<path d="M1247,956 L1255,956" stroke="#f4ece4" stroke-width="1.5" opacity="0.6" filter="url(#b05)"/>
<path d="M1247,963 L1268,964" stroke="#f4ece4" stroke-width="1.5" opacity="0.6" filter="url(#b05)"/>
<path d="M1248,1039 L1262,1040" stroke="#f4ece4" stroke-width="2.5" opacity="0.7" filter="url(#b05)"/>
<path d="M1296,1056 L1316,1057" stroke="#f4ece4" stroke-width="2" opacity="0.6" filter="url(#b05)"/>
<path d="M1290,930 L1300,930" stroke="#f4ece4" stroke-width="2" opacity="0.6" filter="url(#b05)"/>
<path d="M1230,1000 L1250,1001" stroke="#f4ece4" stroke-width="2" opacity="0.6" filter="url(#b05)"/>
<path d="M1240,1012 L1300,1015" stroke="#f4ece4" stroke-width="1.5" opacity="0.4" filter="url(#b05)"/>
<rect x="1309" y="835" width="10" height="255" fill="#c4a07c" opacity="0.7" filter="url(#b1)"/>
</g>
<circle cx="1336" cy="959" r="117.5" fill="none" stroke="#1f6aa8" stroke-width="3.7"/>
<g clip-path="url(#c5)">
<rect x="825" y="1110" width="255" height="48" fill="url(#g5back)"/>
<polygon points="825,1157 1080,1151 1080,1176 825,1181" fill="#2a2729"/>
<polygon points="825,1180 1080,1176 1080,1278 825,1278" fill="url(#g5top)"/>
<polygon points="825,1276 1080,1276 1080,1365 825,1365" fill="url(#g5front)"/>
<rect x="825" y="1268" width="255" height="14" fill="#b0927a" filter="url(#b4)" opacity="0.8"/>
<polygon points="939,1110 948,1110 969,1209 976,1278 979.5,1365 943,1365 938,1278 937.9,1209" fill="#25272a"/>
<polygon points="938,1110 949,1110 961,1170 937,1170" fill="#45464a" filter="url(#b05)"/>
<g clip-path="url(#strapclip)" stroke="#55585e" stroke-width="1" opacity="0.6"><path d="M930,1150 L985,1172 M930,1172 L985,1150"/><path d="M930,1157 L985,1179 M930,1179 L985,1157"/><path d="M930,1164 L985,1186 M930,1186 L985,1164"/><path d="M930,1171 L985,1193 M930,1193 L985,1171"/><path d="M930,1178 L985,1200 M930,1200 L985,1178"/><path d="M930,1185 L985,1207 M930,1207 L985,1185"/><path d="M930,1192 L985,1214 M930,1214 L985,1192"/><path d="M930,1199 L985,1221 M930,1221 L985,1199"/><path d="M930,1206 L985,1228 M930,1228 L985,1206"/><path d="M930,1213 L985,1235 M930,1235 L985,1213"/><path d="M930,1220 L985,1242 M930,1242 L985,1220"/><path d="M930,1227 L985,1249 M930,1249 L985,1227"/><path d="M930,1234 L985,1256 M930,1256 L985,1234"/><path d="M930,1241 L985,1263 M930,1263 L985,1241"/><path d="M930,1248 L985,1270 M930,1270 L985,1248"/><path d="M930,1255 L985,1277 M930,1277 L985,1255"/><path d="M930,1262 L985,1284 M930,1284 L985,1262"/><path d="M930,1269 L985,1291 M930,1291 L985,1269"/><path d="M930,1276 L985,1298 M930,1298 L985,1276"/><path d="M930,1283 L985,1305 M930,1305 L985,1283"/><path d="M930,1290 L985,1312 M930,1312 L985,1290"/><path d="M930,1297 L985,1319 M930,1319 L985,1297"/><path d="M930,1304 L985,1326 M930,1326 L985,1304"/><path d="M930,1311 L985,1333 M930,1333 L985,1311"/><path d="M930,1318 L985,1340 M930,1340 L985,1318"/><path d="M930,1325 L985,1347 M930,1347 L985,1325"/><path d="M930,1332 L985,1354 M930,1354 L985,1332"/><path d="M930,1339 L985,1361 M930,1361 L985,1339"/><path d="M930,1346 L985,1368 M930,1368 L985,1346"/><path d="M930,1353 L985,1375 M930,1375 L985,1353"/><path d="M930,1360 L985,1382 M930,1382 L985,1360"/><path d="M930,1367 L985,1389 M930,1389 L985,1367"/></g>
</g>
<circle cx="951" cy="1235" r="120.5" fill="none" stroke="#1f6aa8" stroke-width="3.7"/>
</svg>
</body></html>
